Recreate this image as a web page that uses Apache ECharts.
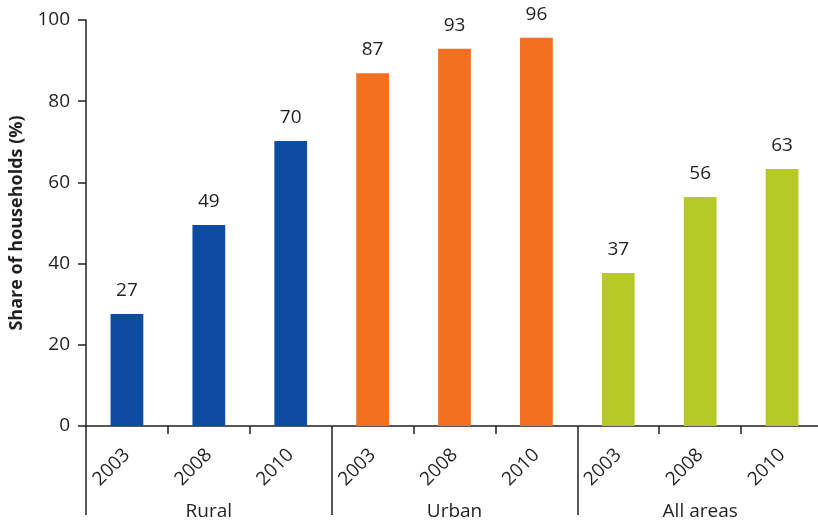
<!DOCTYPE html>
<html>
<head>
<meta charset="utf-8">
<script src="https://cdn.jsdelivr.net/npm/echarts@6/dist/echarts.min.js"></script>
<style>html,body{margin:0;padding:0;background:#fff}#c{width:818px;height:522px}</style>
</head>
<body>
<div id="c"></div>
<script>
const years = ["2003","2008","2010","2003","2008","2010","2003","2008","2010"];
const groups = ["Rural","Urban","All areas"];
const values = [27.6, 49.5, 70.2, 86.9, 92.9, 95.6, 37.7, 56.4, 63.3];
const valueLabels = ["27","49","70","87","93","96","37","56","63"];
const groupColors = ["#0d4ca1","#f37022","#b7c927"];
const yTicks = [0, 20, 40, 60, 80, 100];

const txt = "#231f20";
const font = "'Open Sans', sans-serif";
const chart = echarts.init(document.getElementById('c'), null, {renderer:'canvas'});
chart.setOption({
  animation:false,
  textStyle:{fontFamily:font},
  grid:{left:86, width:737, top:20, height:406, containLabel:false, outerBoundsMode:'none'},
  xAxis:[{
    type:'category', data:years, position:'bottom',
    axisLine:{show:true, lineStyle:{color:txt, width:1.5}},
    axisTick:{show:true, length:8, lineStyle:{color:txt, width:1.5}},
    axisLabel:{rotate:45, margin:26, fontSize:19, color:txt, fontFamily:font},
  },{
    type:'category', data:groups, position:'bottom',
    axisLine:{show:false},
    axisTick:{show:true, length:89, lineStyle:{color:txt, width:1.5}},
    axisLabel:{margin:76, fontSize:19, color:txt, fontFamily:font},
  }],
  yAxis:{
    type:'value', min:yTicks[0], max:yTicks[yTicks.length-1], interval:20,
    name:'Share of households (%)', nameLocation:'middle', nameGap:60, nameRotate:90,
    nameTextStyle:{fontSize:18, fontWeight:'bold', color:txt, fontFamily:font},
    axisLine:{show:true, lineStyle:{color:txt, width:1.5}},
    axisTick:{show:true, length:8, lineStyle:{color:txt, width:1.5}},
    axisLabel:{margin:16, fontSize:19, color:txt, fontFamily:font},
    splitLine:{show:false}
  },
  series:[{
    type:'bar', xAxisIndex:0,
    data:values.map((v,i)=>({value:v, itemStyle:{color:groupColors[Math.floor(i/3)]}})),
    barWidth:'40%',
    label:{show:true, position:'top', distance:14, fontSize:19, color:txt, fontFamily:font,
      formatter:p=>valueLabels[p.dataIndex]}
  }]
});
</script>
</body>
</html>
